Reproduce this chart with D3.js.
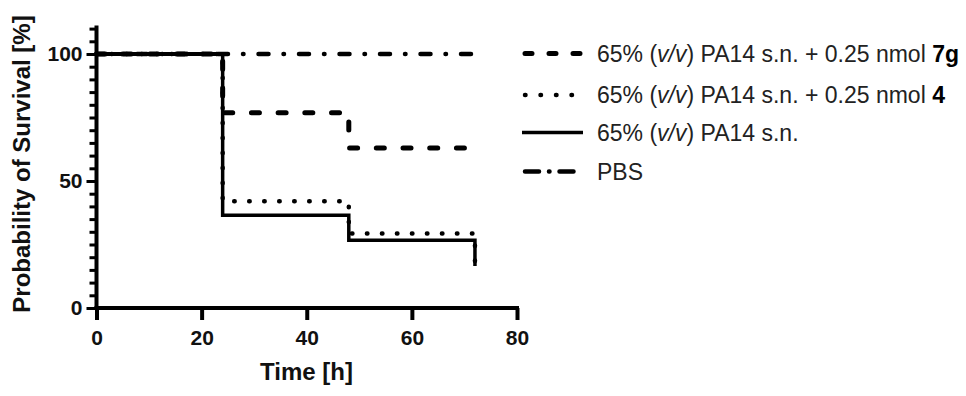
<!DOCTYPE html>
<html><head><meta charset="utf-8">
<script src="https://cdn.jsdelivr.net/npm/d3@7"></script>
<style>
html,body{margin:0;padding:0;background:#fff;}
svg{display:block;font-family:"Liberation Sans",Arial,sans-serif;}
</style></head>
<body>
<svg id="c" width="966" height="396"></svg>
<script>
// ---- data ----
const times = [0, 24, 48, 72];
const seriesNames = ["7g", "4", "sn", "pbs"];
const values7g  = [100, 76.9, 63, 63];
const values4   = [100, 42, 29.3, 13.5];
const valuesSN  = [100, 36.5, 26.7, 16.5];
const valuesPBS = [100, 100, 100, 100];
const xTicks = [0, 20, 40, 60, 80];
const yMajorTicks = [0, 50, 100];
const legendLabels = [
  {pre:"65% (", it:"v/v", mid:") PA14 s.n. + 0.25 nmol ", bold:"7g"},
  {pre:"65% (", it:"v/v", mid:") PA14 s.n. + 0.25 nmol ", bold:"4"},
  {pre:"65% (", it:"v/v", mid:") PA14 s.n.", bold:""},
  {pre:"PBS", it:"", mid:"", bold:""}
];

// ---- styles ----
const styles = {
  "7g":  {w:5,   dash:"8,18.7",            cap:"round", legDash:"7,17,7,17,7"},
  "4":   {w:4.5, dash:"0.5,14.5",          cap:"round", legDash:"0.5,15"},
  "sn":  {w:3.5, dash:null,                cap:"butt",  legDash:null},
  "pbs": {w:4.5, dash:"10,15,0.5,15",      cap:"round", legDash:"14,10,0.5,10,14"}
};
const dataMap = {"7g":values7g, "4":values4, "sn":valuesSN, "pbs":valuesPBS};

const svg = d3.select("#c");
const x = d3.scaleLinear().domain([0, 80]).range([96.5, 517]);
const y = d3.scaleLinear().domain([0, 110]).range([308, 28.6]);

const line = d3.line().x(d => x(d[0])).y(d => y(d[1])).curve(d3.curveStepAfter);

["pbs","7g","4","sn"].forEach(k => {
  const pts = times.map((t,i) => [t, dataMap[k][i]]);
  const p = svg.append("path").attr("d", line(pts))
    .attr("fill","none").attr("stroke","#000")
    .attr("stroke-width", styles[k].w)
    .attr("stroke-linecap", styles[k].cap);
  if (styles[k].dash) p.attr("stroke-dasharray", styles[k].dash);
});
// overlapping initial segment at 100% (all groups) appears solid
svg.append("path")
  .attr("d", line([[times[0], 100],[times[1], 100]]))
  .attr("fill","none").attr("stroke","#000").attr("stroke-width",4);

// axes
const yAxis = d3.axisLeft(y).tickValues(d3.range(0, 111, 5))
  .tickSize(6).tickFormat(d => yMajorTicks.includes(d) ? d : "");
const gy = svg.append("g").attr("transform","translate(96.5,0)").call(yAxis);
gy.select(".domain").attr("stroke","#000").attr("stroke-width",4)
  .attr("d", `M0,${y(110)-3}V${y(0)+2}`);
gy.selectAll(".tick line").attr("stroke","#000").attr("stroke-width",3)
  .attr("x2", d => yMajorTicks.includes(d) ? -10 : -7);
gy.selectAll(".tick text").attr("x",-14).attr("font-size",21).attr("font-weight","bold")
  .attr("fill","#111").attr("font-family","Liberation Sans, Arial, sans-serif");

const xAxis = d3.axisBottom(x).tickValues(xTicks).tickSize(12).tickFormat(d => d);
const gx = svg.append("g").attr("transform","translate(0,308)").call(xAxis);
gx.select(".domain").attr("stroke","#000").attr("stroke-width",4)
  .attr("d", `M${x(0)-2},0H${x(80)+2}`);
gx.selectAll(".tick line").attr("stroke","#000").attr("stroke-width",4);
gx.selectAll(".tick text").attr("y",22).attr("font-size",21).attr("font-weight","bold")
  .attr("fill","#111").attr("font-family","Liberation Sans, Arial, sans-serif");

// axis titles
svg.append("text").attr("x",306.5).attr("y",380).attr("text-anchor","middle")
  .attr("font-size",24).attr("font-weight","bold").attr("fill","#111").text("Time [h]");
svg.append("text").attr("transform","translate(30,164) rotate(-90)")
  .attr("text-anchor","middle").attr("font-size",24).attr("font-weight","bold")
  .attr("fill","#111").text("Probability of Survival [%]");

// legend
const legendRows = [53.5, 95, 132.5, 171.5];
const legendKeys = ["7g","4","sn","pbs"];
legendKeys.forEach((k,i) => {
  const ly = legendRows[i];
  const st = styles[k];
  const x1 = st.cap === "round" ? 525 : 522;
  const x2 = st.cap === "round" ? 580 : 583;
  const p = svg.append("line").attr("x1",x1).attr("x2",x2).attr("y1",ly).attr("y2",ly)
    .attr("stroke","#000").attr("stroke-width",st.w).attr("stroke-linecap",st.cap);
  if (st.legDash) p.attr("stroke-dasharray", st.legDash);
  const t = svg.append("text").attr("x",597).attr("y",ly+8.3)
    .attr("font-size",23).attr("fill","#222");
  const L = legendLabels[i];
  t.append("tspan").text(L.pre);
  if (L.it) t.append("tspan").attr("font-style","italic").text(L.it);
  if (L.mid) t.append("tspan").text(L.mid);
  if (L.bold) t.append("tspan").attr("font-weight","bold").attr("fill","#000").text(L.bold);
});
</script>
</body></html>
